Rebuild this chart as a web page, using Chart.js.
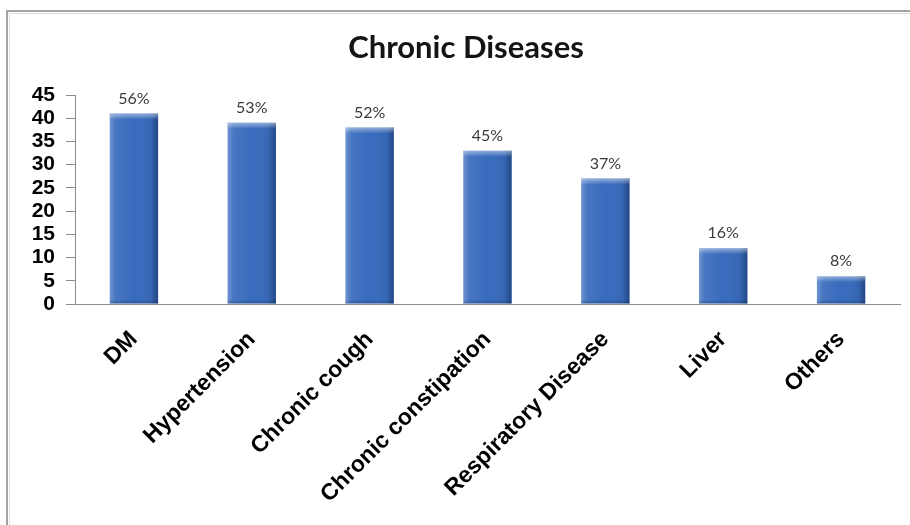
<!DOCTYPE html>
<html>
<head>
<meta charset="utf-8">
<title>Chronic Diseases</title>
<script src="https://cdn.jsdelivr.net/npm/chart.js@4.4.1/dist/chart.umd.min.js"></script>
<style>
  html, body { margin: 0; padding: 0; background: #ffffff; }
  #wrap { position: relative; width: 910px; height: 525px; }
</style>
</head>
<body>
<div id="wrap"><canvas id="chart" width="910" height="525"></canvas></div>
<script>
// Patients reporting each chronic condition (n = 73)
const categories = ['DM', 'Hypertension', 'Chronic cough', 'Chronic constipation', 'Respiratory Disease', 'Liver', 'Others'];
const patientCounts = [41, 39, 38, 33, 27, 12, 6];
const totalPatients = 73;
const yTicks = [0, 5, 10, 15, 20, 25, 30, 35, 40, 45];

const shareLabel = v => Math.round(v / totalPatients * 100) + '%';

// white page with the grey frame on the left and top
const framePlugin = {
  id: 'frame',
  beforeDraw(chart) {
    const c = chart.ctx;
    c.save();
    c.fillStyle = '#ffffff';
    c.fillRect(0, 0, chart.width, chart.height);
    c.strokeStyle = '#a4a4a4';
    c.lineWidth = 2;
    c.beginPath();
    c.moveTo(7, chart.height);
    c.lineTo(7, 11);
    c.lineTo(chart.width, 11);
    c.stroke();
    c.strokeStyle = '#dedede';
    c.lineWidth = 1;
    c.beginPath();
    c.moveTo(9.5, chart.height);
    c.lineTo(9.5, 13.5);
    c.lineTo(chart.width, 13.5);
    c.stroke();
    c.restore();
  }
};

// bevelled look on the bars + percentage labels above them
const barStylePlugin = {
  id: 'barStyle',
  afterDatasetsDraw(chart) {
    const c = chart.ctx;
    const meta = chart.getDatasetMeta(0);
    c.save();
    meta.data.forEach((bar, i) => {
      const left = bar.x - bar.width / 2;
      const right = bar.x + bar.width / 2;
      const top = bar.y;
      const bottom = bar.base;
      const h = bottom - top;
      // side shading
      const g = c.createLinearGradient(left, 0, right, 0);
      g.addColorStop(0, 'rgba(255,255,255,0.28)');
      g.addColorStop(0.12, 'rgba(255,255,255,0.08)');
      g.addColorStop(0.5, 'rgba(255,255,255,0.0)');
      g.addColorStop(0.86, 'rgba(0,0,0,0.06)');
      g.addColorStop(1, 'rgba(0,20,60,0.40)');
      c.fillStyle = g;
      c.fillRect(left, top, right - left, h);
      // top cap
      const capH = Math.min(6, h / 3);
      const g2 = c.createLinearGradient(0, top, 0, top + capH);
      g2.addColorStop(0, 'rgba(255,255,255,0.45)');
      g2.addColorStop(1, 'rgba(255,255,255,0.0)');
      c.fillStyle = g2;
      c.fillRect(left, top, right - left, capH);
      // bottom shade
      const g3 = c.createLinearGradient(0, bottom - 4, 0, bottom);
      g3.addColorStop(0, 'rgba(0,20,60,0.0)');
      g3.addColorStop(1, 'rgba(0,20,60,0.25)');
      c.fillStyle = g3;
      c.fillRect(left, bottom - 4, right - left, 4);

      c.fillStyle = '#3a3a3a';
      c.font = '16px Lato, "Open Sans", sans-serif';
      c.textAlign = 'center';
      c.textBaseline = 'alphabetic';
      c.fillText(shareLabel(patientCounts[i]), bar.x, top - 10);
    });
    c.restore();
  }
};

const titlePlugin = {
  id: 'bigTitle',
  afterDraw(chart) {
    const c = chart.ctx;
    c.save();
    c.fillStyle = '#141414';
    c.font = 'bold 31px Lato, "Open Sans", sans-serif';
    c.textAlign = 'center';
    c.textBaseline = 'middle';
    c.fillText('Chronic Diseases', 466, 48);
    c.restore();
  }
};

new Chart(document.getElementById('chart'), {
  type: 'bar',
  data: {
    labels: categories,
    datasets: [{
      data: patientCounts,
      backgroundColor: '#386bbd',
      borderWidth: 0,
      categoryPercentage: 1,
      barPercentage: 0.41
    }]
  },
  options: {
    responsive: false,
    animation: false,
    layout: { padding: { top: 95, right: 10, left: 0, bottom: 0 } },
    plugins: {
      legend: { display: false },
      tooltip: { enabled: false },
      title: { display: false }
    },
    scales: {
      x: {
        grid: { display: false },
        border: { display: true, color: '#8c8c8c', width: 1 },
        ticks: {
          autoSkip: false,
          minRotation: 45,
          maxRotation: 45,
          padding: 14,
          color: '#000000',
          font: { family: '"Liberation Sans", Arial, sans-serif', size: 23, weight: 'bold' }
        },
        afterFit(scale) { scale.height = 221; }
      },
      y: {
        min: 0,
        max: 45,
        afterBuildTicks(scale) { scale.ticks = yTicks.map(v => ({ value: v })); },
        grid: { drawOnChartArea: false, drawTicks: true, tickLength: 9, color: '#8c8c8c' },
        border: { display: true, color: '#8c8c8c', width: 1 },
        ticks: {
          autoSkip: false,
          padding: 11,
          color: '#000000',
          font: { family: '"Liberation Sans", Arial, sans-serif', size: 21, weight: 'bold', lineHeight: 1 }
        },
        afterFit(scale) { scale.width = 75; }
      }
    }
  },
  plugins: [framePlugin, barStylePlugin, titlePlugin]
});
</script>
</body>
</html>
